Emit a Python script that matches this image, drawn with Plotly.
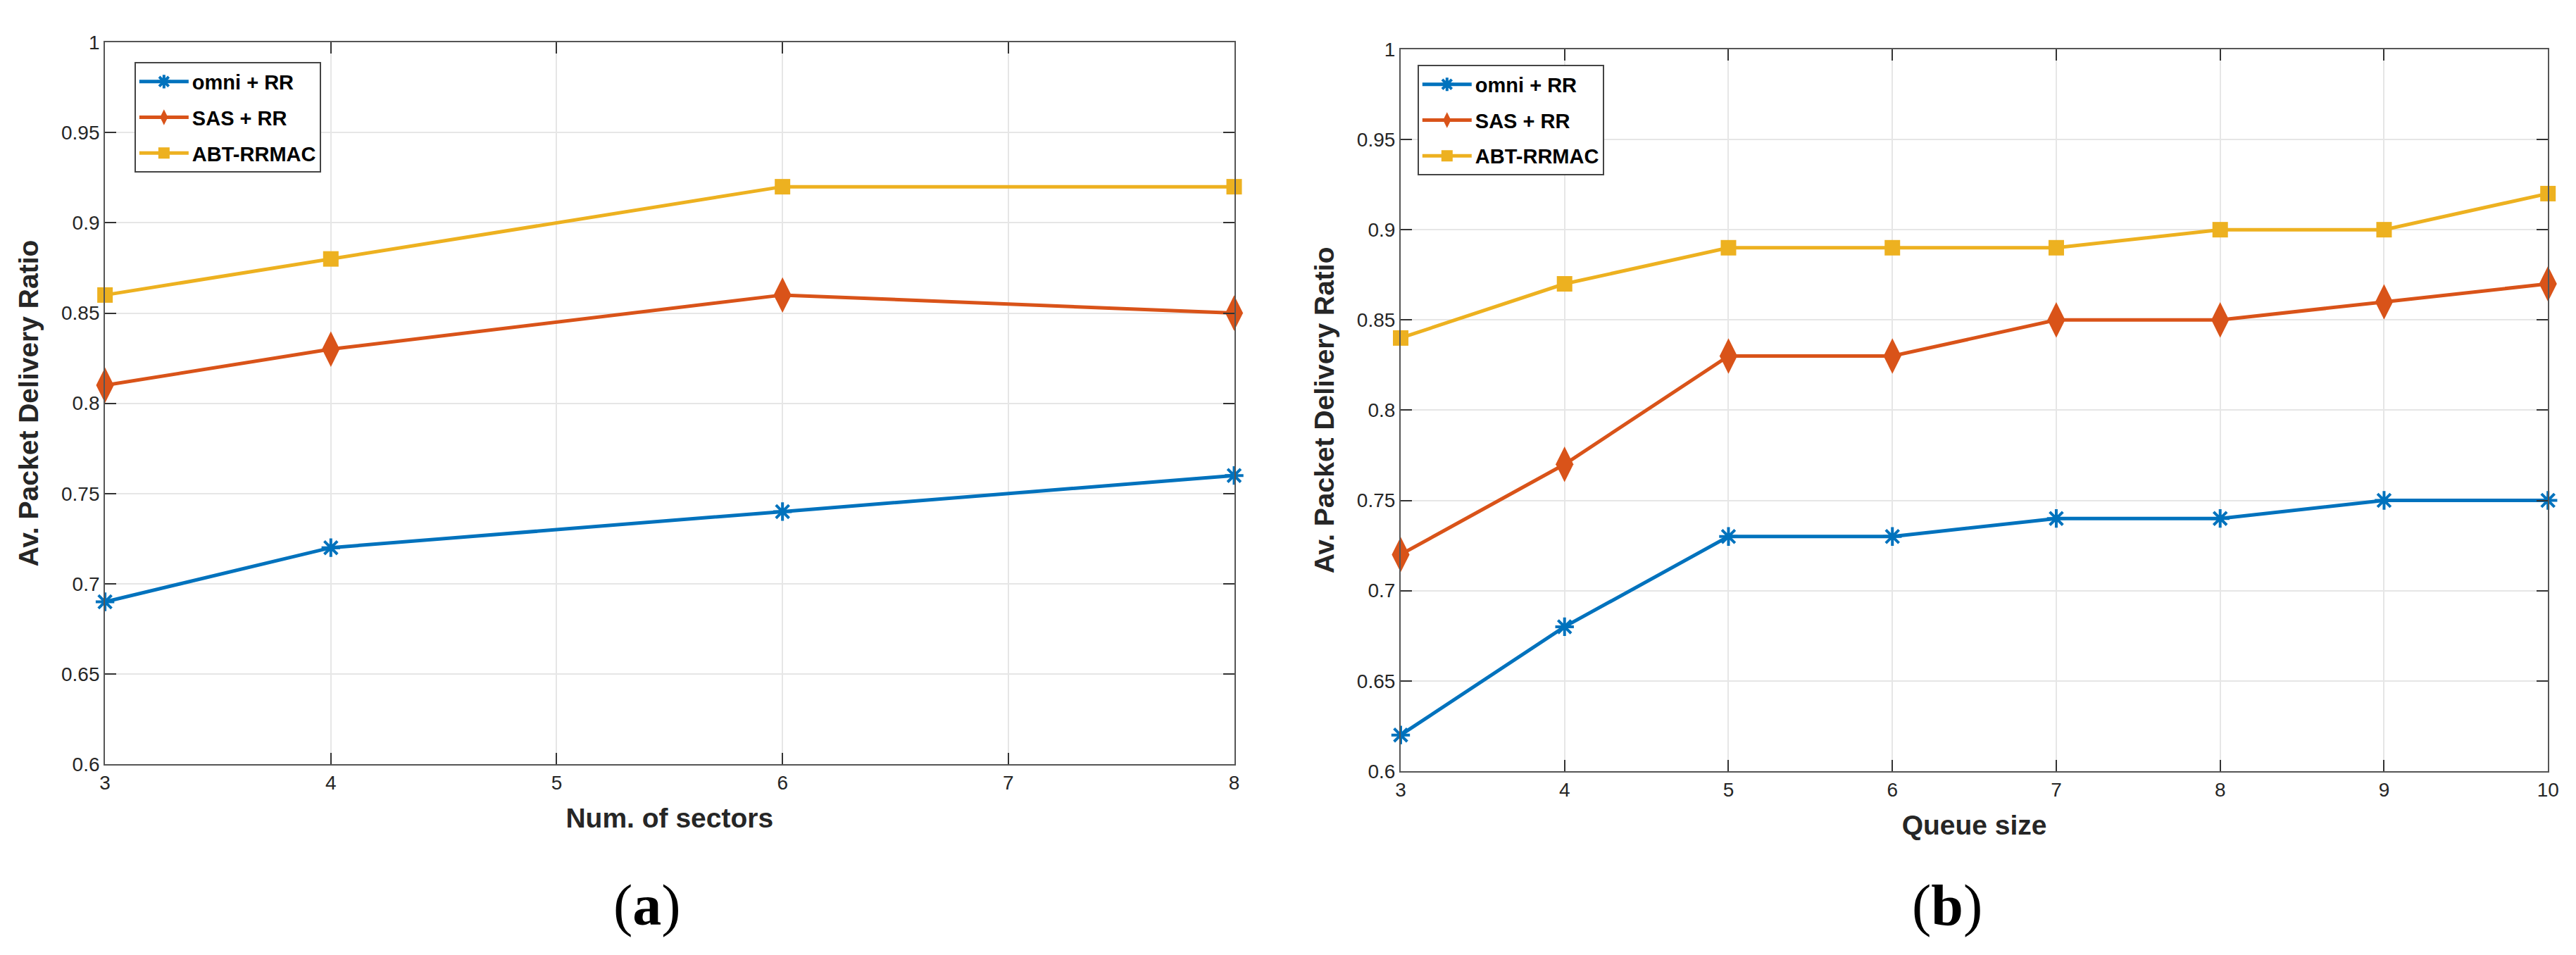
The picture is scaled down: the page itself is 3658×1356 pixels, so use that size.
import plotly.graph_objects as go

# (a) sectors
sectors = [3, 4, 6, 8]
omni_sec = [0.69, 0.72, 0.74, 0.76]
sas_sec = [0.81, 0.83, 0.86, 0.85]
abt_sec = [0.86, 0.88, 0.92, 0.92]

# (b) queue size
queue = [3, 4, 5, 6, 7, 8, 9, 10]
omni_q = [0.62, 0.68, 0.73, 0.73, 0.74, 0.74, 0.75, 0.75]
sas_q = [0.72, 0.77, 0.83, 0.83, 0.85, 0.85, 0.86, 0.87]
abt_q = [0.84, 0.87, 0.89, 0.89, 0.89, 0.90, 0.90, 0.92]

names = ["omni + RR", "SAS + RR", "ABT-RRMAC"]
colors = ["#0072BD", "#D95319", "#EDB120"]
ytick_vals = [0.6, 0.65, 0.7, 0.75, 0.8, 0.85, 0.9, 0.95, 1.0]
ytick_text = ["0.6", "0.65", "0.7", "0.75", "0.8", "0.85", "0.9", "0.95", "1"]

W, H = 3658, 1356
FONT = "Liberation Sans"


def marker_for(i):
    if i == 0:
        return dict(symbol="asterisk", size=22, color=colors[0],
                    line=dict(color=colors[0], width=4))
    if i == 1:
        return dict(symbol="diamond-tall", size=36, color=colors[1],
                    line=dict(width=0))
    return dict(symbol="square", size=22, color=colors[2], line=dict(width=0))


fig = go.Figure()

panels = [
    ("x", "y", "legend", sectors, [omni_sec, sas_sec, abt_sec]),
    ("x2", "y2", "legend2", queue, [omni_q, sas_q, abt_q]),
]
for xa, ya, lg, xs, series in panels:
    for i, ys in enumerate(series):
        fig.add_trace(go.Scatter(
            x=xs, y=ys, mode="lines+markers", name=names[i],
            line=dict(color=colors[i], width=5),
            marker=marker_for(i),
            xaxis=xa, yaxis=ya, legend=lg,
            legendgroup=f"{lg}_{i}",
            cliponaxis=False,
        ))

axis_common = dict(
    showline=True, linecolor="#555555", linewidth=2, mirror="ticks",
    ticks="inside", ticklen=16, tickwidth=2, tickcolor="#333333",
    showgrid=True, gridcolor="#e6e6e6", gridwidth=2, zeroline=False,
    tickfont=dict(family=FONT, size=28, color="#262626"),
)
title_font = dict(family=FONT, size=39, color="#262626")

legend_common = dict(
    xanchor="left", yanchor="top",
    bgcolor="white", bordercolor="#444444", borderwidth=2,
    font=dict(family=FONT, size=29, color="black", weight="bold"),
    itemwidth=70, tracegroupgap=10,
)

fig.update_layout(
    width=W, height=H,
    margin=dict(l=0, r=0, t=0, b=0),
    paper_bgcolor="white", plot_bgcolor="white",
    showlegend=True,
    xaxis=dict(axis_common, domain=[134 / W, 1748 / W], range=[3, 8],
               tickvals=[3, 4, 5, 6, 7, 8], anchor="y",
               title=dict(text="<b>Num. of sectors</b>", font=title_font, standoff=22)),
    yaxis=dict(axis_common, domain=[1 - 1087 / H, 1 - 38 / H], range=[0.6, 1.0],
               tickvals=ytick_vals, ticktext=ytick_text, anchor="x",
               title=dict(text="<b>Av. Packet Delivery Ratio</b>", font=title_font, standoff=20)),
    xaxis2=dict(axis_common, domain=[1986 / W, 3626 / W], range=[3, 10],
                tickvals=queue, anchor="y2",
                title=dict(text="<b>Queue size</b>", font=title_font, standoff=22)),
    yaxis2=dict(axis_common, domain=[1 - 1097 / H, 1 - 48 / H], range=[0.6, 1.0],
                tickvals=ytick_vals, ticktext=ytick_text, anchor="x2",
                title=dict(text="<b>Av. Packet Delivery Ratio</b>", font=title_font, standoff=20)),
    legend=dict(legend_common, x=176 / W, y=1 - 67 / H),
    legend2=dict(legend_common, x=2010 / W, y=1 - 71 / H),
)

for label, cx in (("a", 909), ("b", 2767)):
    fig.add_annotation(
        x=cx / W, y=1 - 1292 / H, xref="paper", yref="paper",
        text=f"(<b>{label}</b>)", showarrow=False,
        xanchor="center", yanchor="middle",
        font=dict(family="Liberation Serif", size=82, color="black"),
    )

fig.write_html("out.html")
